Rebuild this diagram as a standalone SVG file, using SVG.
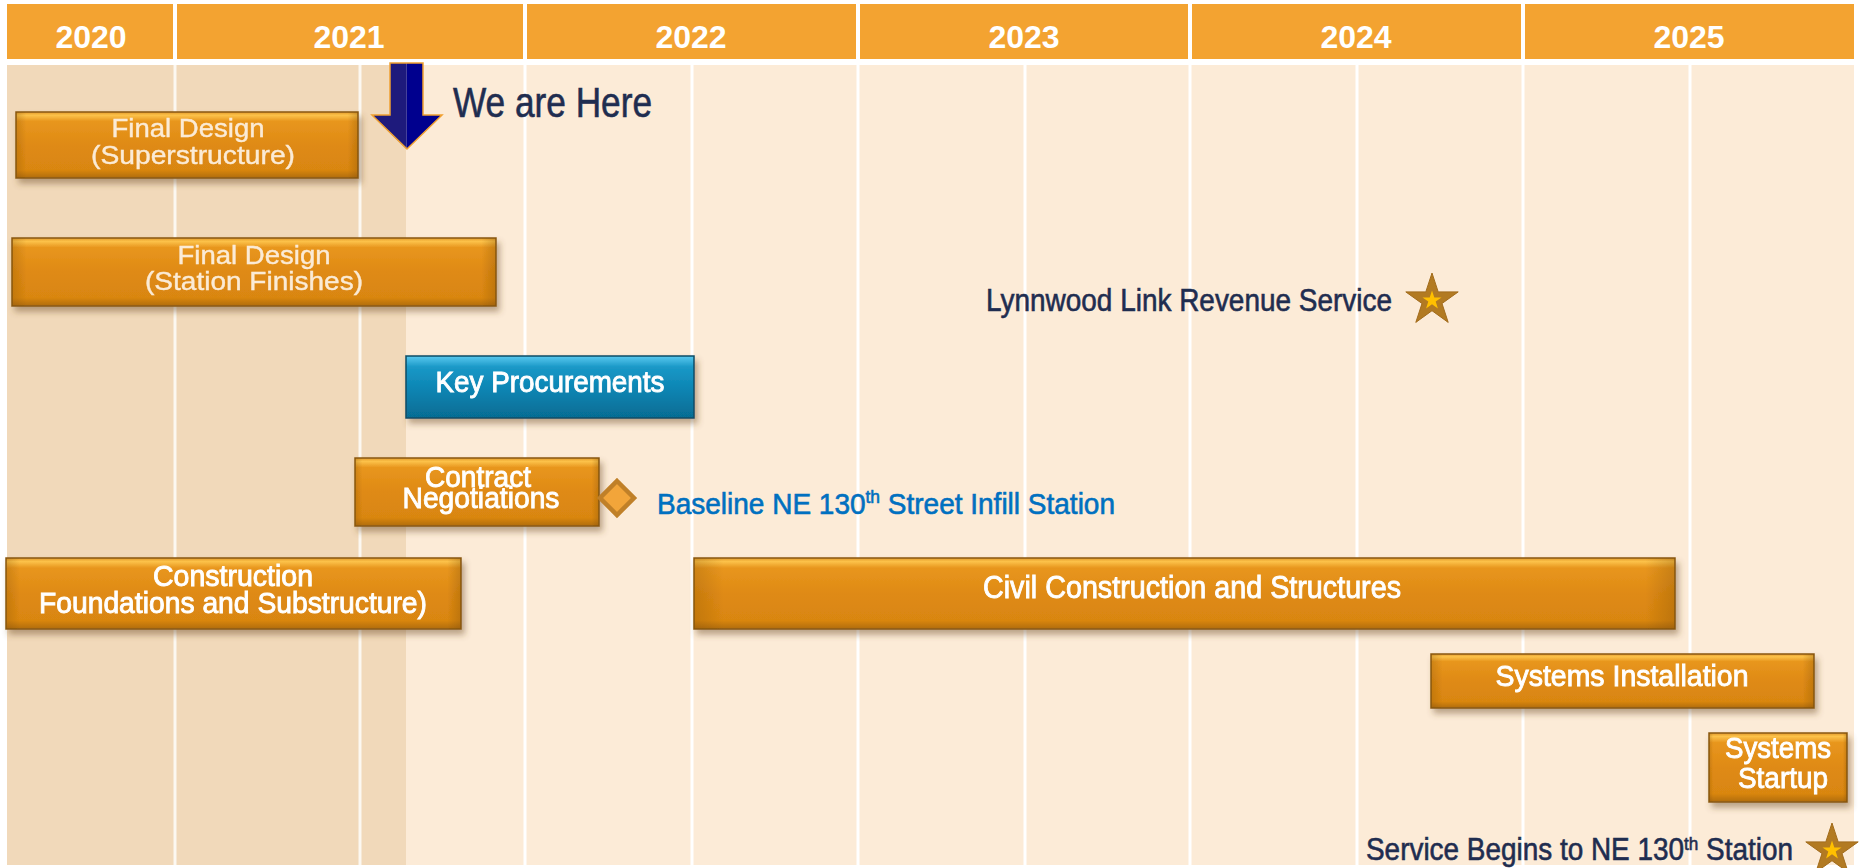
<svg xmlns="http://www.w3.org/2000/svg" width="1860" height="868" viewBox="0 0 1860 868">
  <defs>
    <linearGradient id="og" x1="0" y1="0" x2="0" y2="1">
      <stop offset="0" stop-color="#E39A2A"/>
      <stop offset="0.05" stop-color="#FCC24A"/>
      <stop offset="0.14" stop-color="#E8961E"/>
      <stop offset="0.5" stop-color="#DF8A14"/>
      <stop offset="0.88" stop-color="#D98611"/>
      <stop offset="1" stop-color="#B06C0C"/>
    </linearGradient>
    <linearGradient id="bg" x1="0" y1="0" x2="0" y2="1">
      <stop offset="0" stop-color="#5AC8EE"/>
      <stop offset="0.07" stop-color="#40B6E0"/>
      <stop offset="0.18" stop-color="#1B98C7"/>
      <stop offset="0.55" stop-color="#0A84B2"/>
      <stop offset="1" stop-color="#066C93"/>
    </linearGradient>
    <linearGradient id="bev" x1="0" y1="0" x2="1" y2="0">
      <stop offset="0" stop-color="#7A4A00" stop-opacity="0.25"/>
      <stop offset="0.03" stop-color="#7A4A00" stop-opacity="0"/>
      <stop offset="0.97" stop-color="#7A4A00" stop-opacity="0"/>
      <stop offset="1" stop-color="#7A4A00" stop-opacity="0.3"/>
    </linearGradient>
    <filter id="sh" x="-10%" y="-20%" width="130%" height="160%">
      <feDropShadow dx="3" dy="5" stdDeviation="3" flood-color="#6B4A20" flood-opacity="0.45"/>
    </filter>
    <style>
      .hdr { fill: #F3A331; }
      .yr { font-family: "Liberation Sans", Arial, sans-serif; font-weight: bold; font-size: 32px; fill: #FFFFFF; text-anchor: middle; }
      .grid { stroke: #FFFFFF; stroke-width: 3; }
      .obox { fill: url(#og); stroke: #8A5A14; stroke-width: 1.5; }
      .bbox { fill: url(#bg); stroke: #0A4C66; stroke-width: 1.5; }
      .bevel { fill: url(#bev); }
      .lbl { font-family: "Liberation Sans Narrow", "Liberation Sans", Arial, sans-serif; fill: #FFFFFF; stroke: #FFFFFF; stroke-width: 0.9; text-anchor: middle; }
      .lbl2 { font-family: "Liberation Sans Narrow", "Liberation Sans", Arial, sans-serif; fill: #FBEBD6; stroke: #FBEBD6; stroke-width: 0.4; text-anchor: middle; }
      .note { font-family: "Liberation Sans Narrow", "Liberation Sans", Arial, sans-serif; fill: #1F2D50; stroke: #1F2D50; stroke-width: 0.6; }
      .blue { font-family: "Liberation Sans Narrow", "Liberation Sans", Arial, sans-serif; fill: #0070C0; stroke: #0070C0; stroke-width: 0.6; }
      .star { fill: #B27A22; stroke: #A26C1C; stroke-width: 1; }
      .istar { fill: #FFC000; }
    </style>
  </defs>

  <rect x="0" y="0" width="1860" height="868" fill="#FFFFFF"/>

  <g id="header">
    <rect class="hdr" x="7" y="4" width="1847" height="55"/>
    <g stroke="#FFFFFF" stroke-width="4">
      <line x1="175" y1="0" x2="175" y2="60"/>
      <line x1="525" y1="0" x2="525" y2="60"/>
      <line x1="858" y1="0" x2="858" y2="60"/>
      <line x1="1190" y1="0" x2="1190" y2="60"/>
      <line x1="1523" y1="0" x2="1523" y2="60"/>
    </g>
    <text class="yr" x="91" y="48">2020</text>
    <text class="yr" x="349" y="48">2021</text>
    <text class="yr" x="691" y="48">2022</text>
    <text class="yr" x="1024" y="48">2023</text>
    <text class="yr" x="1356" y="48">2024</text>
    <text class="yr" x="1689" y="48">2025</text>
  </g>

  <g id="body">
    <rect x="7" y="65" width="1847" height="800" fill="#FCEBD7"/>
    <rect x="7" y="65" width="399" height="800" fill="#F1D9BA"/>
    <g class="grid">
      <line x1="175" y1="65" x2="175" y2="865" stroke-opacity="0.8"/>
      <line x1="360" y1="65" x2="360" y2="865" stroke-opacity="0.8"/>
      <line x1="525" y1="65" x2="525" y2="865"/>
      <line x1="692" y1="65" x2="692" y2="865"/>
      <line x1="858" y1="65" x2="858" y2="865"/>
      <line x1="1025" y1="65" x2="1025" y2="865"/>
      <line x1="1190" y1="65" x2="1190" y2="865"/>
      <line x1="1357" y1="65" x2="1357" y2="865"/>
      <line x1="1523" y1="65" x2="1523" y2="865"/>
      <line x1="1690" y1="65" x2="1690" y2="865"/>
    </g>
  </g>

  <g id="we-are-here">
    <polygon points="390,63 406.5,63 406.5,149 372,115 390,115" fill="#1E1A7C"/>
    <polygon points="406.5,63 423,63 423,115 442,115 406.5,149" fill="#00008E"/>
    <polygon points="390,63 423,63 423,115 442,115 407,149 372,115 390,115" fill="none" stroke="#F0A030" stroke-width="1.5" stroke-linejoin="miter"/>
    <text class="note" x="453" y="117" font-size="42" textLength="199" lengthAdjust="spacingAndGlyphs">We are Here</text>
  </g>

  <g id="final-design-superstructure" filter="url(#sh)">
    <rect class="obox" x="16" y="112" width="342" height="66"/>
    <rect class="bevel" x="16" y="112" width="342" height="66"/>
    <text class="lbl2" x="188" y="137" font-size="26" textLength="153" lengthAdjust="spacingAndGlyphs">Final Design</text>
    <text class="lbl2" x="193" y="164" font-size="26" textLength="204" lengthAdjust="spacingAndGlyphs">(Superstructure)</text>
  </g>

  <g id="final-design-station-finishes" filter="url(#sh)">
    <rect class="obox" x="12" y="238" width="484" height="68"/>
    <rect class="bevel" x="12" y="238" width="484" height="68"/>
    <text class="lbl2" x="254" y="264" font-size="26" textLength="153" lengthAdjust="spacingAndGlyphs">Final Design</text>
    <text class="lbl2" x="254" y="290" font-size="26" textLength="218" lengthAdjust="spacingAndGlyphs">(Station Finishes)</text>
  </g>

  <g id="key-procurements" filter="url(#sh)">
    <rect class="bbox" x="406" y="356" width="288" height="62"/>
    <text class="lbl" x="550" y="392" font-size="30" textLength="229" lengthAdjust="spacingAndGlyphs">Key Procurements</text>
  </g>

  <g id="contract-negotiations" filter="url(#sh)">
    <rect class="obox" x="355" y="458" width="244" height="68"/>
    <rect class="bevel" x="355" y="458" width="244" height="68"/>
    <text class="lbl" x="478" y="487" font-size="30" textLength="106" lengthAdjust="spacingAndGlyphs">Contract</text>
    <text class="lbl" x="481" y="508" font-size="30" textLength="157" lengthAdjust="spacingAndGlyphs">Negotiations</text>
  </g>

  <g id="baseline-milestone">
    <polygon points="617,481 634,498 617,515 600,498" fill="#F2A53A" stroke="#C08028" stroke-width="4.5" stroke-linejoin="miter"/>
    <text class="blue" x="657" y="514" font-size="29" textLength="458" lengthAdjust="spacingAndGlyphs">Baseline NE 130<tspan font-size="18" dy="-11">th</tspan><tspan dy="11"> Street Infill Station</tspan></text>
  </g>

  <g id="lynnwood-milestone">
    <text class="note" x="986" y="311" font-size="31" textLength="406" lengthAdjust="spacingAndGlyphs">Lynnwood Link Revenue Service</text>
    <polygon class="star" points="1432,273 1438.2,291.9 1458.2,291.9 1442,303.5 1448.2,322.4 1432,310.7 1415.8,322.4 1422,303.5 1405.8,291.9 1425.8,291.9"/>
    <polygon class="istar" points="1432,290.5 1434.3,297.4 1441.5,297.4 1435.7,301.6 1437.9,308.5 1432,304.2 1426.1,308.5 1428.3,301.6 1422.5,297.4 1429.7,297.4"/>
  </g>

  <g id="construction-foundations" filter="url(#sh)">
    <rect class="obox" x="6" y="558" width="455" height="71"/>
    <rect class="bevel" x="6" y="558" width="455" height="71"/>
    <text class="lbl" x="233" y="586" font-size="29" textLength="160" lengthAdjust="spacingAndGlyphs">Construction</text>
    <text class="lbl" x="233" y="613" font-size="29" textLength="388" lengthAdjust="spacingAndGlyphs">Foundations and Substructure)</text>
  </g>

  <g id="civil-construction" filter="url(#sh)">
    <rect class="obox" x="694" y="558" width="981" height="71"/>
    <rect class="bevel" x="694" y="558" width="981" height="71"/>
    <text class="lbl" x="1192" y="598" font-size="31" textLength="418" lengthAdjust="spacingAndGlyphs">Civil Construction and Structures</text>
  </g>

  <g id="systems-installation" filter="url(#sh)">
    <rect class="obox" x="1431" y="654" width="383" height="54"/>
    <rect class="bevel" x="1431" y="654" width="383" height="54"/>
    <text class="lbl" x="1622" y="686" font-size="30" textLength="253" lengthAdjust="spacingAndGlyphs">Systems Installation</text>
  </g>

  <g id="systems-startup" filter="url(#sh)">
    <rect class="obox" x="1709" y="733" width="138" height="69"/>
    <rect class="bevel" x="1709" y="733" width="138" height="69"/>
    <text class="lbl" x="1778" y="758" font-size="30" textLength="106" lengthAdjust="spacingAndGlyphs">Systems</text>
    <text class="lbl" x="1783" y="788" font-size="30" textLength="90" lengthAdjust="spacingAndGlyphs">Startup</text>
  </g>

  <g id="service-begins-milestone">
    <text class="note" x="1366" y="860" font-size="31" textLength="427" lengthAdjust="spacingAndGlyphs">Service Begins to NE 130<tspan font-size="19" dy="-10">th</tspan><tspan dy="10"> Station</tspan></text>
    <polygon class="star" points="1832,823 1838.2,841.9 1858.2,841.9 1842,853.5 1848.2,872.4 1832,860.7 1815.8,872.4 1822,853.5 1805.8,841.9 1825.8,841.9"/>
    <polygon class="istar" points="1832,840.5 1834.3,847.4 1841.5,847.4 1835.7,851.6 1837.9,858.5 1832,854.2 1826.1,858.5 1828.3,851.6 1822.5,847.4 1829.7,847.4"/>
  </g>

  <g id="connectors"/>
</svg>
